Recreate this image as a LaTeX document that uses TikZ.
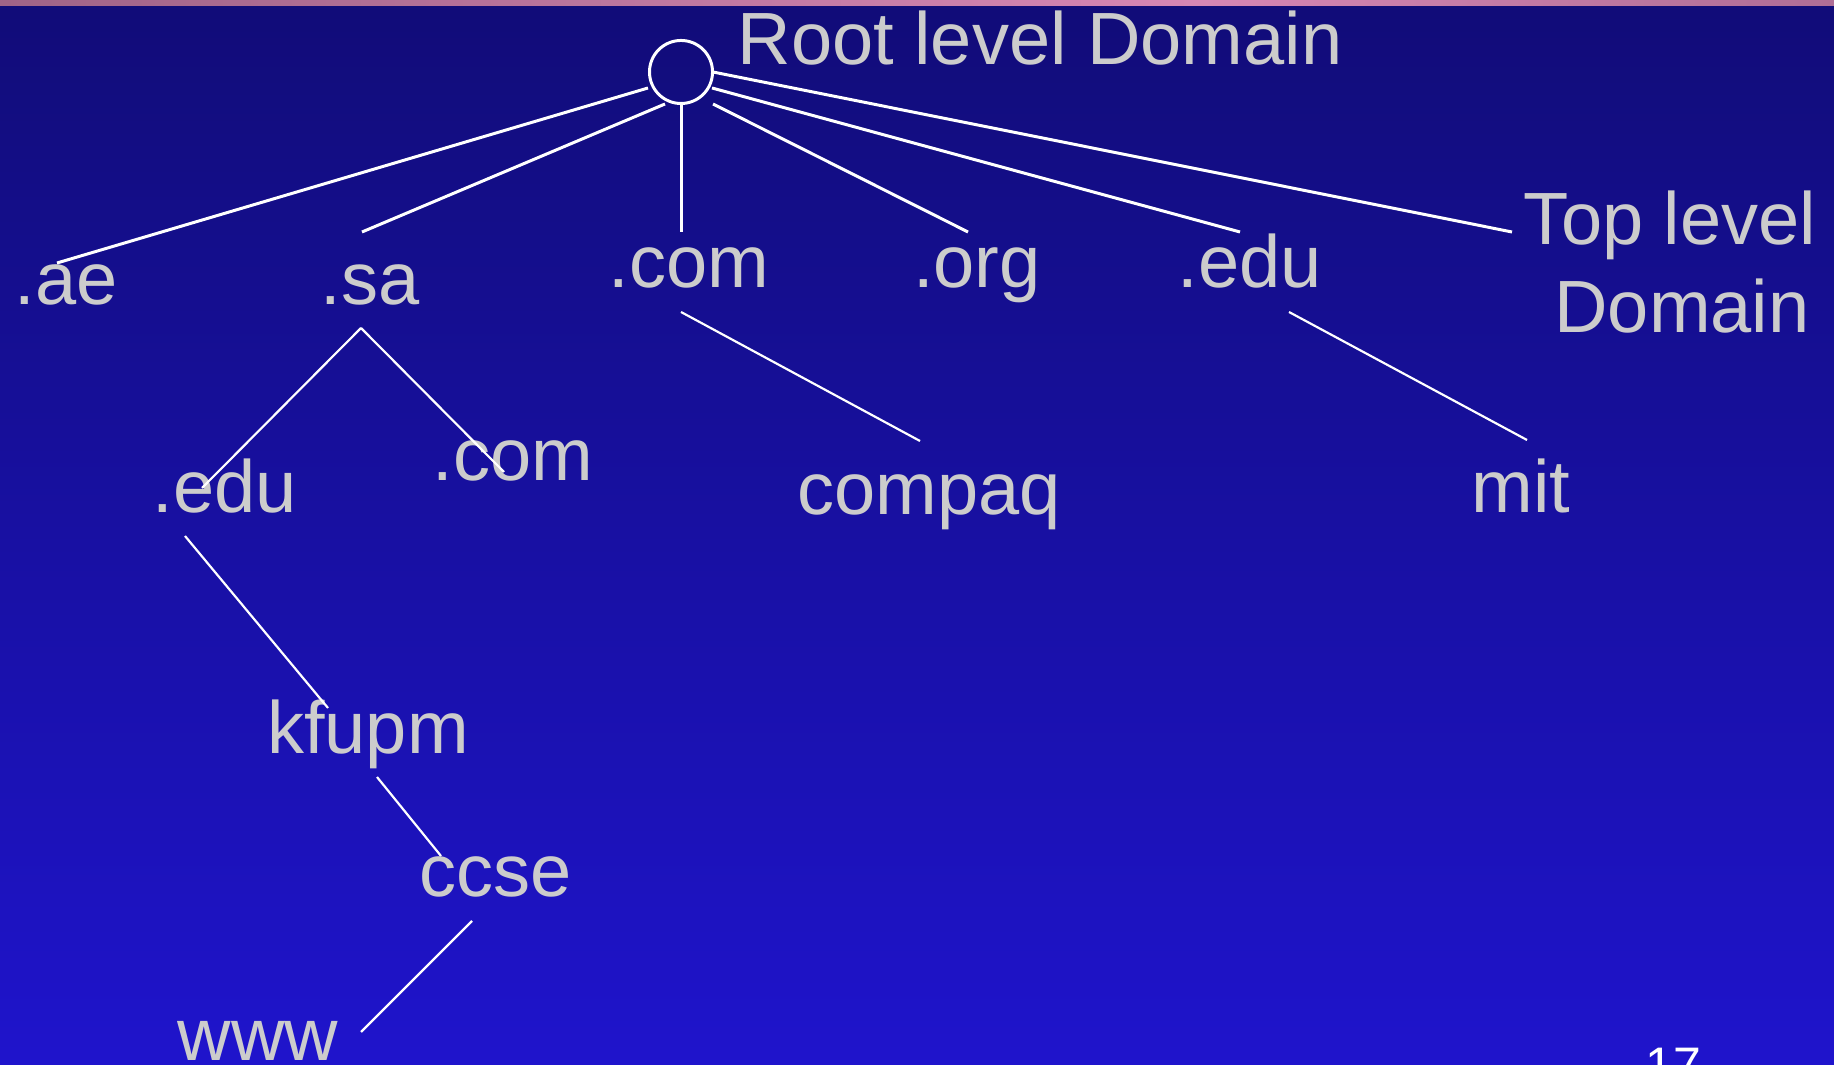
\documentclass[tikz,border=0pt]{standalone}
\usepackage{fontspec}
\setmainfont{Liberation Sans}
\usetikzlibrary{calc}
\definecolor{bgtop}{RGB}{17,12,120}
\definecolor{bgbot}{RGB}{31,20,204}
\definecolor{lbl}{RGB}{204,204,204}
\definecolor{bandA}{RGB}{160,100,135}
\definecolor{bandB}{RGB}{215,135,180}
\definecolor{bandC}{RGB}{175,110,150}
\tikzset{
  lab/.style={text=lbl, inner sep=0pt, anchor=base, font=\fontsize{21.05pt}{25pt}\selectfont},
  toplink/.style={draw=white, line width=0.85pt},
  link/.style={draw=white, line width=0.62pt},
}
\begin{document}
\begin{tikzpicture}[x=0.01cm,y=-0.01cm]
\useasboundingbox (0,0) rectangle (1834,1065);
\clip (0,0) rectangle (1834,1065);
% background
\shade[top color=bgtop, bottom color=bgbot] (0,0) rectangle (1834,1065);
\shade[left color=bandA, right color=bandB] (0,0) rectangle (1200,6);
\shade[left color=bandB, right color=bandC] (1200,0) rectangle (1834,6);

% root
\node[draw=white, line width=0.85pt, circle, minimum size=0.63cm, inner sep=0pt] (root) at (681,72) {};
\node[lab] (rootlbl) at (1040,65) {Root level Domain};

% labels
\node[lab] (ae) at (66,305) {.ae};
\node[lab] (sa) at (370,305) {.sa};
\node[lab] (com) at (689,288) {.com};
\node[lab] (org) at (977,288) {.org};
\node[lab] (edu) at (1250,288) {.edu};
\node[lab] (tldA) at (1670,245) {Top level};
\node[lab] (tldB) at (1682,333) {Domain};
\node[lab] (edu2) at (225,513) {.edu};
\node[lab] (com2) at (513,481) {.com};
\node[lab] (compaq) at (929,515) {compaq};
\node[lab] (mit) at (1521,513) {mit};
\node[lab] (kfupm) at (368,754) {kfupm};
\node[lab] (ccse) at (496,897) {ccse};
\node[lab] (www) at (258,1060) {www};
\node[text=white, inner sep=0pt, anchor=north, font=\fontsize{14.2pt}{17pt}\selectfont] (pg) at (1673,1047) {17};

% connector end points
\coordinate (r-ae) at (648,88);
\coordinate (r-sa) at (665,104);
\coordinate (r-com) at (681,105);
\coordinate (r-org) at (713,104);
\coordinate (r-edu) at (712,88);
\coordinate (r-tld) at (713,72);
\coordinate (ae-in) at (57,263);
\coordinate (sa-in) at (362,232);
\coordinate (com-in) at (681,232);
\coordinate (org-in) at (968,232);
\coordinate (edu-in) at (1240,232);
\coordinate (tld-in) at (1512,232);
\coordinate (sa-out) at (361,328);
\coordinate (edu2-in) at (202,488);
\coordinate (com2-in) at (504,472);
\coordinate (com-out) at (681,312);
\coordinate (compaq-in) at (920,441);
\coordinate (edu-out) at (1289,312);
\coordinate (mit-in) at (1527,440);
\coordinate (edu2-out) at (185,536);
\coordinate (kfupm-in) at (328,708);
\coordinate (kfupm-out) at (377,777);
\coordinate (ccse-in) at (441,856);
\coordinate (ccse-out) at (472,921);
\coordinate (www-in) at (361,1032);

% connectors
\draw[toplink] (r-ae) -- (ae-in);
\draw[toplink] (r-sa) -- (sa-in);
\draw[toplink] (r-com) -- (com-in);
\draw[toplink] (r-org) -- (org-in);
\draw[toplink] (r-edu) -- (edu-in);
\draw[toplink] (r-tld) -- (tld-in);
\draw[link] (sa-out) -- (edu2-in);
\draw[link] (sa-out) -- (com2-in);
\draw[link] (com-out) -- (compaq-in);
\draw[link] (edu-out) -- (mit-in);
\draw[link] (edu2-out) -- (kfupm-in);
\draw[link] (kfupm-out) -- (ccse-in);
\draw[link] (ccse-out) -- (www-in);
\end{tikzpicture}
\end{document}
